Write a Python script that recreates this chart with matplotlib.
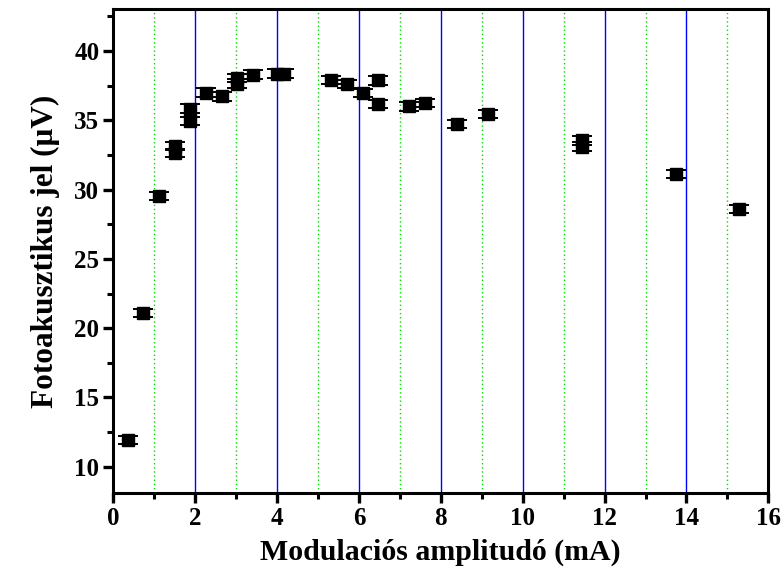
import matplotlib
matplotlib.use('Agg')
import matplotlib.pyplot as plt
from matplotlib.ticker import MultipleLocator

# data (mA, microvolts)
amplitude = [0.35, 0.73, 1.11, 1.50, 1.50, 1.87, 1.87, 2.26, 2.65, 3.03, 3.03, 3.41,
             3.99, 4.18, 5.32, 5.71, 6.09, 6.47, 6.47, 7.23, 7.61, 8.39, 9.15,
             11.44, 11.44, 13.74, 15.28]
signal = [11.95, 21.1, 29.55, 33.15, 32.65, 35.85, 34.95, 37.0, 36.72, 38.05, 37.65, 38.3,
          38.37, 38.37, 37.9, 37.62, 36.95, 37.88, 36.2, 36.0, 36.23, 34.72, 35.45,
          33.55, 33.1, 31.15, 28.62]
signal_err = [0.3] * len(signal)

plt.rcParams.update({
    'font.family': ['Liberation Serif', 'DejaVu Serif'],
    'font.weight': 'bold',
})

fig = plt.figure(figsize=(7.84, 5.74), dpi=100)
ax = fig.add_axes([0.1445, 0.141, 0.8355, 0.8425])

# grid lines: blue at even, green dotted at odd
for x in range(2, 16, 2):
    ax.axvline(x, color='#0000ff', linewidth=1.0, zorder=0)
for x in range(1, 16, 2):
    ax.axvline(x, color='#00dd00', linewidth=1.0, linestyle=(0, (1, 2)), zorder=0)

ax.errorbar(amplitude, signal, yerr=signal_err, fmt='s', color='black', ms=8,
            ecolor='black', elinewidth=1.0, capsize=7, capthick=1.4, zorder=3)

ax.set_xlim(0, 16)
ax.set_ylim(8.1, 43)
ax.xaxis.set_major_locator(MultipleLocator(2))
ax.xaxis.set_minor_locator(MultipleLocator(1))
ax.yaxis.set_major_locator(MultipleLocator(5))
ax.yaxis.set_minor_locator(MultipleLocator(2.5))
ax.set_yticks([10, 15, 20, 25, 30, 35, 40])

for s in ax.spines.values():
    s.set_linewidth(2.2)
ax.tick_params(which='major', direction='out', length=7, width=2.4, labelsize=18, pad=3)
ax.tick_params(which='minor', direction='out', length=4, width=2.2)
for lab in ax.get_xticklabels() + ax.get_yticklabels():
    lab.set_fontweight('bold')

ax.set_xlabel('Modulaciós amplitudó (mA)', fontsize=21.5, fontweight='bold', labelpad=6)
ax.set_ylabel('Fotoakusztikus jel (μV)', fontsize=22.5, fontweight='bold', labelpad=10)

fig.savefig('out.png', dpi=100)
